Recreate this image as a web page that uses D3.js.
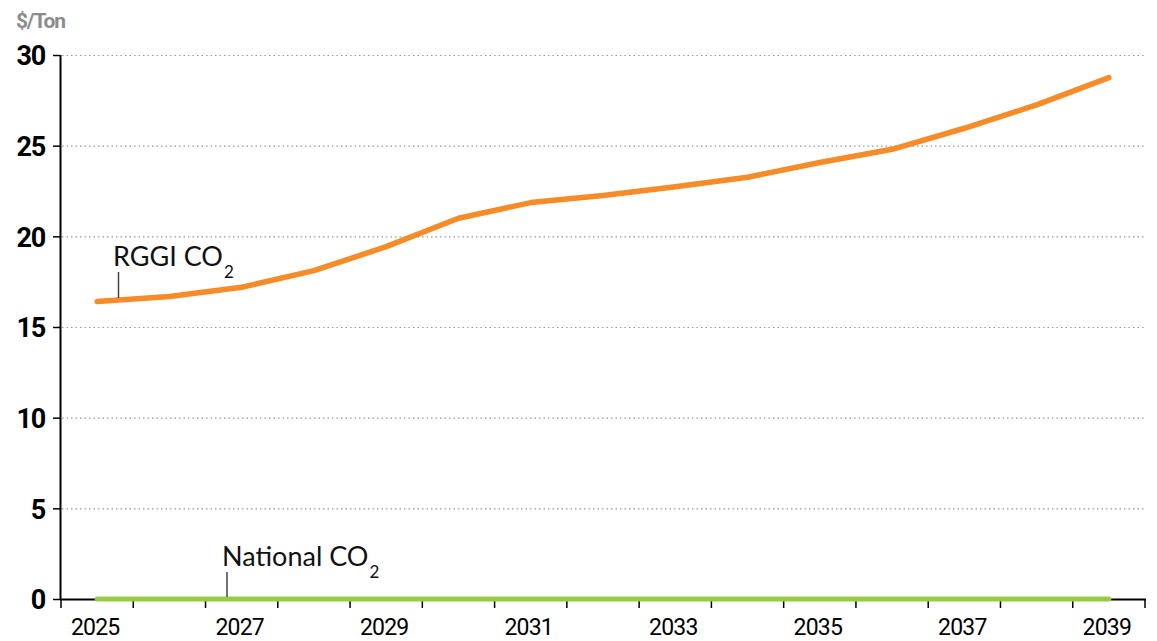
<!DOCTYPE html>
<html><head><meta charset="utf-8">
<script src="https://cdn.jsdelivr.net/npm/d3@7"></script>
<style>
body{margin:0;background:#fff;}
svg{display:block;}
</style></head>
<body><svg id="c" width="1157" height="641"></svg>
<script>
const years = [2025,2026,2027,2028,2029,2030,2031,2032,2033,2034,2035,2036,2037,2038,2039];
const rggi = [16.4,16.68,17.19,18.11,19.43,21.0,21.86,22.25,22.74,23.26,24.07,24.8,25.96,27.25,28.75];
const national = [0,0,0,0,0,0,0,0,0,0,0,0,0,0,0];
const yTicks = [0,5,10,15,20,25,30];
const xLabels = [2025,2027,2029,2031,2033,2035,2037,2039];

const svg = d3.select("#c");
const m = {l:60, r:1145, t:55, b:599};
const x = d3.scaleBand().domain(years).range([m.l+1, m.r]).padding(0);
const y = d3.scaleLinear().domain([0,30]).range([m.b, m.t]);
const cx = d => x(d) + x.bandwidth()/2;

// gridlines
svg.append("g").selectAll("line").data(yTicks.filter(d=>d>0)).join("line")
  .attr("x1", m.l+2).attr("x2", m.r).attr("y1", d=>y(d)+0.5).attr("y2", d=>y(d)+0.5)
  .attr("stroke","#999").attr("stroke-width",1.2).attr("stroke-dasharray","1.5,3");

// y axis
const yAxis = svg.append("g").attr("transform",`translate(${m.l},0)`)
  .call(d3.axisLeft(y).tickValues(yTicks).tickSize(7).tickPadding(8).tickFormat(d3.format("d")));
yAxis.select(".domain").attr("stroke","#000").attr("stroke-width",2).attr("d",`M0.5,${m.t}V${m.b}`);
yAxis.selectAll(".tick line").attr("stroke","#000").attr("stroke-width",1.5);
yAxis.selectAll(".tick text").attr("font-family","Roboto, sans-serif").attr("font-weight","bold")
  .attr("font-size","27px").attr("letter-spacing","-1.3").attr("fill","#000").attr("dy","0.36em").attr("x",-15);

// x axis
const xg = svg.append("g").attr("transform",`translate(0,${m.b})`);
xg.append("line").attr("x1",m.l).attr("x2",m.r+1).attr("y1",0.5).attr("y2",0.5).attr("stroke","#000").attr("stroke-width",2);
const bounds = years.map(d=>x(d)).concat([x(years[years.length-1])+x.bandwidth()]);
xg.selectAll("line.tk").data(bounds).join("line").attr("class","tk")
  .attr("x1",d=>d).attr("x2",d=>d).attr("y1",0).attr("y2",9).attr("stroke","#000").attr("stroke-width",1.5);
xg.selectAll("text").data(xLabels).join("text")
  .attr("x", d=>cx(d)-2).attr("y", 36).attr("text-anchor","middle")
  .attr("font-family","Roboto, sans-serif").attr("font-size","23px").attr("letter-spacing","-0.8")
  .attr("fill","#000").text(d=>d);

// unit label
svg.append("text").attr("x",16).attr("y",28).attr("font-family","Roboto, sans-serif").attr("font-weight","bold")
  .attr("font-size","21px").attr("fill","#8c8c8c").attr("letter-spacing","-1.2").text("$/Ton");

// lines
const line = d3.line().x((d,i)=>cx(years[i])).y(d=>y(d));
svg.append("path").datum(national).attr("d",line).attr("fill","none").attr("stroke","#97CA45")
  .attr("stroke-width",5).attr("stroke-linecap","round");
svg.append("path").datum(rggi).attr("d",line).attr("fill","none").attr("stroke","#F68B27")
  .attr("stroke-width",5.5).attr("stroke-linecap","round").attr("stroke-linejoin","round");

// annotations
function label(tx, ty, lx, ly1, ly2, name){
  svg.append("line").attr("x1",lx).attr("x2",lx).attr("y1",ly1).attr("y2",ly2).attr("stroke","#444").attr("stroke-width",1.5);
  const t = svg.append("text").attr("x",tx).attr("y",ty).attr("font-family","Lato, sans-serif")
    .attr("font-size","27px").attr("fill","#111");
  t.append("tspan").text(name + " CO");
  t.append("tspan").attr("font-size","17px").attr("dy",12).attr("dx",1).text("2");
}
label(113, 266, 118.5, 272, 298, "RGGI");
label(222, 566, 227, 572, 597, "National");
</script></body></html>
